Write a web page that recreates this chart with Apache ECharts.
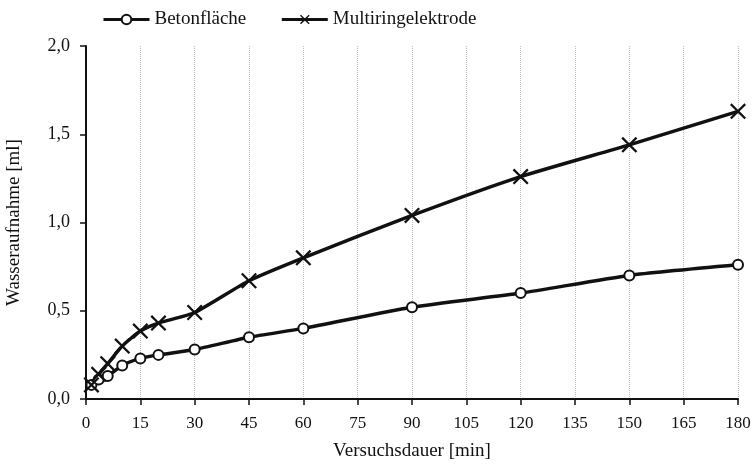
<!DOCTYPE html>
<html>
<head>
<meta charset="utf-8">
<script src="https://cdn.jsdelivr.net/npm/echarts@6/dist/echarts.min.js"></script>
<style>html,body{margin:0;padding:0;background:#fff}#c{width:753px;height:467px}</style>
</head>
<body>
<div id="c"></div>
<script>
var times = [1.5, 3.5, 6, 10, 15, 20, 30, 45, 60, 90, 120, 150, 180];
var beton = [0.08, 0.11, 0.13, 0.19, 0.23, 0.25, 0.28, 0.35, 0.40, 0.52, 0.60, 0.70, 0.76];
var multi = [0.08, 0.14, 0.20, 0.30, 0.385, 0.43, 0.49, 0.67, 0.80, 1.04, 1.26, 1.44, 1.63];
var xTicks = [0, 15, 30, 45, 60, 75, 90, 105, 120, 135, 150, 165, 180];
var yTicks = [0, 0.5, 1.0, 1.5, 2.0];

function pairs(xs, ys) { return xs.map(function (x, i) { return [x, ys[i]]; }); }
var font = 'Liberation Serif';
var crossPath = 'path://M0,1L1,0L5,4L9,0L10,1L6,5L10,9L9,10L5,6L1,10L0,9L4,5Z';

var chart = echarts.init(document.getElementById('c'));
chart.setOption({
  animation: false,
  backgroundColor: '#fff',
  legend: {
    left: 97, top: 5, itemGap: 34, itemWidth: 46, itemHeight: 12,
    lineStyle: { width: 3 },
    textStyle: { fontFamily: font, fontSize: 19, color: '#111' },
    data: ['Betonfläche', 'Multiringelektrode']
  },
  grid: { left: 86, right: 15, top: 46, bottom: 68, containLabel: false, outerBoundsMode: 'none' },
  xAxis: {
    type: 'value', min: 0, max: 180, interval: 15,
    name: 'Versuchsdauer [min]', nameLocation: 'middle', nameGap: 43,
    nameTextStyle: { fontFamily: font, fontSize: 19, color: '#111' },
    axisLine: { lineStyle: { color: '#111', width: 2 } },
    axisTick: { show: true, inside: false, length: 6, lineStyle: { color: '#111', width: 1.5 } },
    axisLabel: { fontFamily: font, fontSize: 17, color: '#111', margin: 16 },
    splitLine: { show: true, lineStyle: { color: '#bbb', type: 'dotted', width: 1 } }
  },
  yAxis: {
    type: 'value', min: 0, max: 2, interval: 0.5,
    name: 'Wasseraufnahme [ml]', nameLocation: 'middle', nameGap: 62,
    nameTextStyle: { fontFamily: font, fontSize: 19, color: '#111' },
    axisLine: { show: true, lineStyle: { color: '#111', width: 2 } },
    axisTick: { show: true, inside: false, length: 6, lineStyle: { color: '#111', width: 1.5 } },
    axisLabel: { fontFamily: font, fontSize: 18, color: '#111', margin: 16,
      formatter: function (v) { return v.toFixed(1).replace('.', ','); } },
    splitLine: { show: false }
  },
  series: [
    {
      name: 'Betonfläche', type: 'line', data: pairs(times, beton),
      smooth: 0.2, symbol: 'circle', symbolSize: 10,
      itemStyle: { color: '#fff', borderColor: '#111', borderWidth: 2 },
      lineStyle: { color: '#111', width: 3.5 }
    },
    {
      name: 'Multiringelektrode', type: 'line', data: pairs(times, multi),
      smooth: 0.2, symbol: crossPath, symbolSize: 16,
      itemStyle: { color: '#111' },
      lineStyle: { color: '#111', width: 3.5 }
    }
  ]
});
</script>
</body>
</html>
